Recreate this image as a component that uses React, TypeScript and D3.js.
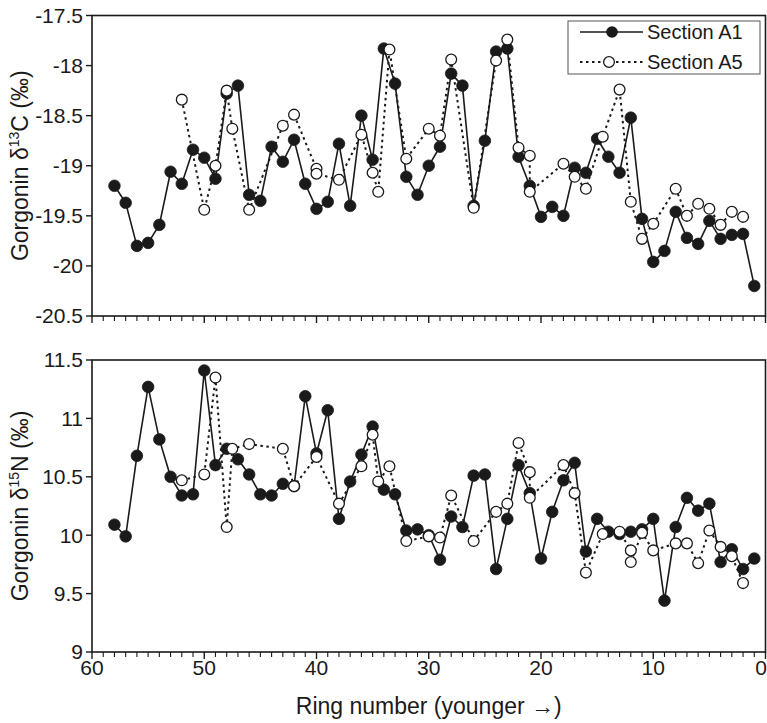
import React from 'react';
import * as d3 from 'd3';

// ---- Data ----
const ringsA1 = [58, 57, 56, 55, 54, 53, 52, 51, 50, 49, 48, 47, 46, 45, 44, 43, 42, 41, 40, 39, 38, 37, 36, 35, 34, 33, 32, 31, 30, 29, 28, 27, 26, 25, 24, 23, 22, 21, 20, 19, 18, 17, 16, 15, 14, 13, 12, 11, 10, 9, 8, 7, 6, 5, 4, 3, 2, 1];
const d13cA1 = [-19.2, -19.37, -19.8, -19.77, -19.59, -19.06, -19.18, -18.84, -18.92, -19.13, -18.28, -18.2, -19.29, -19.35, -18.81, -18.96, -18.74, -19.18, -19.43, -19.36, -18.78, -19.4, -18.5, -18.94, -17.83, -18.18, -19.11, -19.29, -19.0, -18.81, -18.08, -18.2, -19.4, -18.75, -17.86, -17.83, -18.91, -19.2, -19.51, -19.41, -19.5, -19.02, -19.07, -18.73, -18.91, -19.07, -18.52, -19.53, -19.96, -19.85, -19.46, -19.72, -19.78, -19.55, -19.73, -19.69, -19.68, -20.2];
const d15nA1 = [10.09, 9.99, 10.68, 11.27, 10.82, 10.5, 10.34, 10.35, 11.41, 10.6, 10.74, 10.65, 10.52, 10.35, 10.34, 10.44, 10.42, 11.19, 10.7, 11.07, 10.14, 10.46, 10.69, 10.93, 10.39, 10.35, 10.04, 10.05, 10.0, 9.79, 10.16, 10.07, 10.51, 10.52, 9.71, 10.14, 10.6, 10.36, 9.8, 10.2, 10.47, 10.62, 9.86, 10.14, 10.03, 10.01, 10.03, 10.05, 10.14, 9.44, 10.07, 10.32, 10.21, 10.27, 9.77, 9.88, 9.71, 9.8];

const ringsA5C = [52, 50, 49, 48, 47.5, 46, 43, 42, 40, 40, 38, 36, 35, 34.5, 33.5, 32, 30, 29, 28, 26, 24, 23, 22, 21, 21, 18, 17, 16, 14.5, 13, 12, 11, 10, 8, 7, 6, 5, 4, 3, 2];
const d13cA5 = [-18.34, -19.44, -19.0, -18.25, -18.63, -19.44, -18.6, -18.49, -19.03, -19.08, -19.14, -18.69, -19.07, -19.26, -17.84, -18.93, -18.63, -18.7, -17.94, -19.42, -17.95, -17.74, -18.82, -18.9, -19.26, -18.98, -19.11, -19.23, -18.71, -18.24, -19.36, -19.73, -19.58, -19.23, -19.5, -19.38, -19.43, -19.59, -19.46, -19.51];

const ringsA5N = [52, 50, 49, 48, 47.5, 46, 43, 42, 40, 38, 36, 35, 34.5, 33.5, 32, 30, 29, 28, 26, 24, 23, 22, 21, 21, 18, 17, 16, 14.5, 13, 12, 12, 11, 10, 8, 7, 6, 5, 4, 3, 2];
const d15nA5 = [10.47, 10.52, 11.35, 10.07, 10.74, 10.78, 10.74, 10.42, 10.67, 10.27, 10.59, 10.86, 10.46, 10.59, 9.95, 9.99, 9.98, 10.34, 9.95, 10.2, 10.27, 10.79, 10.54, 10.32, 10.6, 10.36, 9.68, 10.01, 10.03, 9.87, 9.77, 10.02, 9.87, 9.93, 9.93, 9.76, 10.04, 9.9, 9.82, 9.59];

const xMajorTicks = [60, 50, 40, 30, 20, 10, 0];
const xMinorTicks = d3.range(0, 61, 1);
const yTicksC = [-17.5, -18, -18.5, -19, -19.5, -20, -20.5];
const yTicksN = [11.5, 11, 10.5, 10, 9.5, 9];
const seriesNames = ['Section A1', 'Section A5'];

// ---- Layout ----
const W = 767;
const H = 723;
const left = 92;
const right = 765.5;
const FONT = '"Liberation Sans", Arial, Helvetica, sans-serif';
const INK = '#1a1a1a';
const TICK_FS = 21;
const TITLE_FS = 23;

const x = d3.scaleLinear().domain([60, 0]).range([left, right]);
const yC = d3.scaleLinear().domain([-20.5, -17.5]).range([316, 15.5]);
const yN = d3.scaleLinear().domain([9, 11.5]).range([652, 360]);

type Pt = [number, number];

function Panel({ y, ticks, a1, a5, tickFmt, showXLabels }: {
  y: d3.ScaleLinear<number, number>;
  ticks: number[];
  a1: Pt[];
  a5: Pt[];
  tickFmt: (v: number) => string;
  showXLabels: boolean;
}) {
  const [y0, y1] = y.range();
  const bottom = Math.max(y0, y1);
  const top = Math.min(y0, y1);
  const line = d3.line<Pt>().x(d => x(d[0])).y(d => y(d[1]));
  return (
    <g>
      <rect x={left} y={top} width={right - left} height={bottom - top} fill="none" stroke={INK} strokeWidth={1.6} />
      {ticks.map(t => (
        <g key={'y' + t}>
          <line x1={left - 6} x2={left} y1={y(t)} y2={y(t)} stroke={INK} strokeWidth={1.4} />
          <text x={left - 9} y={y(t)} dy="0.35em" textAnchor="end" fontSize={TICK_FS} fontFamily={FONT} fill={INK}>{tickFmt(t)}</text>
        </g>
      ))}
      {xMinorTicks.map(t => {
        const major = t % 10 === 0;
        return (
          <line key={'x' + t} x1={x(t)} x2={x(t)} y1={bottom} y2={bottom + (major ? 7 : 5)} stroke={INK} strokeWidth={major ? 1.4 : 1.1} />
        );
      })}
      {showXLabels && xMajorTicks.map(t => (
        <text key={'xl' + t} x={Math.min(x(t), W - 6)} y={bottom + 23} textAnchor="middle" fontSize={TICK_FS} fontFamily={FONT} fill={INK}>{t}</text>
      ))}
      <path d={line(a1) || ''} fill="none" stroke={INK} strokeWidth={1.6} />
      <path d={line(a5) || ''} fill="none" stroke={INK} strokeWidth={2} strokeDasharray="2.5,3.5" />
      {a1.map((d, i) => (
        <circle key={'a' + i} cx={x(d[0])} cy={y(d[1])} r={5.8} fill={INK} stroke={INK} strokeWidth={0.8} />
      ))}
      {a5.map((d, i) => (
        <circle key={'b' + i} cx={x(d[0])} cy={y(d[1])} r={5.4} fill="#fff" stroke={INK} strokeWidth={1.3} />
      ))}
    </g>
  );
}

export default function App() {
  const a1C: Pt[] = ringsA1.map((r, i) => [r, d13cA1[i]]);
  const a1N: Pt[] = ringsA1.map((r, i) => [r, d15nA1[i]]);
  const a5C: Pt[] = ringsA5C.map((r, i) => [r, d13cA5[i]]);
  const a5N: Pt[] = ringsA5N.map((r, i) => [r, d15nA5[i]]);
  const fmt = (v: number) => String(v);

  const lg = { x: 568, y: 21, w: 192, h: 53 };
  return (
    <svg width={W} height={H} style={{ position: 'absolute', left: 0, top: 0, background: '#fff' }}>
      <rect x={0} y={0} width={W} height={H} fill="#fff" />
      <Panel y={yC} ticks={yTicksC} a1={a1C} a5={a5C} tickFmt={fmt} showXLabels={false} />
      <Panel y={yN} ticks={yTicksN} a1={a1N} a5={a5N} tickFmt={fmt} showXLabels={true} />

      <g>
        <rect x={lg.x} y={lg.y} width={lg.w} height={lg.h} fill="#fff" stroke="#555" strokeWidth={1} />
        <line x1={580} x2={643} y1={32} y2={32} stroke={INK} strokeWidth={1.6} />
        <circle cx={612} cy={32} r={5.8} fill={INK} />
        <text x={647} y={32} dy="0.35em" fontSize={20} fontFamily={FONT} fill={INK}>{seriesNames[0]}</text>
        <line x1={580} x2={643} y1={62} y2={62} stroke={INK} strokeWidth={2} strokeDasharray="2.5,3.5" />
        <circle cx={609} cy={62} r={5.4} fill="#fff" stroke={INK} strokeWidth={1.3} />
        <text x={647} y={62} dy="0.35em" fontSize={20} fontFamily={FONT} fill={INK}>{seriesNames[1]}</text>
      </g>

      <text transform={`translate(28,${(yC(-17.5) + yC(-20.5)) / 2}) rotate(-90)`} textAnchor="middle" fontSize={TITLE_FS} fontFamily={FONT} fill={INK}>
        Gorgonin δ<tspan fontSize={14} dy={-9}>13</tspan><tspan dy={9}>C (‰)</tspan>
      </text>
      <text transform={`translate(28,${(yN(11.5) + yN(9)) / 2}) rotate(-90)`} textAnchor="middle" fontSize={TITLE_FS} fontFamily={FONT} fill={INK}>
        Gorgonin δ<tspan fontSize={14} dy={-9}>15</tspan><tspan dy={9}>N (‰)</tspan>
      </text>
      <text x={(left + right) / 2} y={714} textAnchor="middle" fontSize={TITLE_FS} fontFamily={FONT} fill={INK}>
        Ring number (younger →)
      </text>
    </svg>
  );
}
